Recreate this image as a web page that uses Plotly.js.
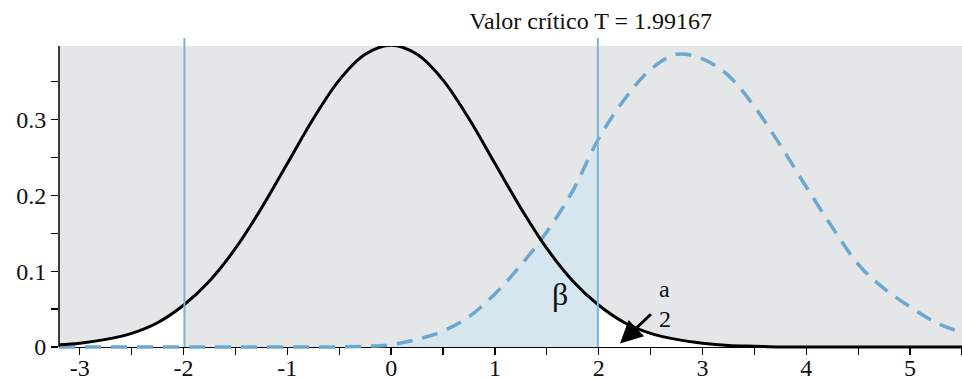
<!DOCTYPE html>
<html>
<head>
<meta charset="utf-8">
<script src="https://cdn.plot.ly/plotly-3.0.1.min.js"></script>
<style>
  html, body { margin: 0; padding: 0; background: #fff; }
  #chart { width: 962px; height: 379px; }
</style>
</head>
<body>
<div id="chart"></div>
<script>
// critical value of the test
const critT = 1.99167;

const xVals = [-3.2, -3.0, -2.75, -2.5, -2.25, -1.99167, -1.75, -1.5, -1.25, -1.0, -0.75, -0.5, -0.25, 0,
  0.25, 0.5, 0.75, 1.0, 1.25, 1.5, 1.75, 1.99167, 2.25, 2.5, 2.75, 3.0, 3.25, 3.5, 3.75, 4.0,
  4.25, 4.5, 4.75, 5.0, 5.25, 5.5];

// null distribution (solid black)
const nullDens = [0.003, 0.005, 0.010, 0.018, 0.032, 0.056, 0.087, 0.130, 0.183, 0.242, 0.301, 0.352, 0.386, 0.398,
  0.386, 0.352, 0.301, 0.242, 0.183, 0.130, 0.087, 0.056, 0.032, 0.018, 0.010, 0.005, 0.002, 0.001, 0, 0,
  0, 0, 0, 0, 0, 0];

// alternative distribution (dashed blue)
const altDens = [0, 0, 0, 0, 0, 0, 0, 0, 0, 0, 0, 0, 0.001, 0.003,
  0.010, 0.021, 0.040, 0.070, 0.108, 0.152, 0.206, 0.273, 0.327, 0.366, 0.386, 0.380, 0.358, 0.317, 0.266, 0.211,
  0.158, 0.109, 0.077, 0.053, 0.032, 0.019];

const xTickVals = [-3, -2, -1, 0, 1, 2, 3, 4, 5];
const xTickText = ["-3", "-2", "-1", "0", "1", "2", "3", "4", "5"];

const serif = "Liberation Serif";
const blue = "#6ba8cf";

// y range goes a hair below 0 so curves lying on the axis are not cut in half
const yLo = -0.004, yHi = 0.397;
const zeroPos = -yLo / (yHi - yLo);

// pick the part of a series inside [lo, hi]
function slice(ys, lo, hi){
  const x = [], y = [];
  xVals.forEach((v, i) => {
    if(v >= lo - 1e-9 && v <= hi + 1e-9){
      x.push(v);
      y.push(ys[i]);
    }
  });
  return {x: x, y: y};
}

const leftTail = slice(nullDens, -10, -critT);
const rightTail = slice(nullDens, critT, 10);
const betaPart = slice(altDens, -10, critT);

const traces = [
  {x: leftTail.x, y: leftTail.y, type: "scatter", mode: "lines", line: {width: 0, shape: "spline"},
   fill: "tozeroy", fillcolor: "#ffffff", hoverinfo: "skip"},
  {x: rightTail.x, y: rightTail.y, type: "scatter", mode: "lines", line: {width: 0, shape: "spline"},
   fill: "tozeroy", fillcolor: "#ffffff", hoverinfo: "skip"},
  {x: betaPart.x, y: betaPart.y, type: "scatter", mode: "lines", line: {width: 0, shape: "spline"},
   fill: "tozeroy", fillcolor: "#d6e6ef", hoverinfo: "skip"},
  {x: xVals, y: altDens, type: "scatter", mode: "lines",
   line: {color: blue, width: 3.5, dash: "16px,10px", shape: "spline"}},
  {x: xVals, y: nullDens, type: "scatter", mode: "lines",
   line: {color: "#000000", width: 3, shape: "spline"}}
];

const tickFont = {family: serif, size: 24, color: "#111"};

const shapes = [
  // grey panel from 0 up
  {type: "rect", xref: "paper", yref: "y", x0: 0, x1: 1, y0: 0, y1: yHi,
   fillcolor: "#e5e6e8", line: {width: 0}, layer: "below"},
  // y axis line
  {type: "line", xref: "paper", yref: "y", x0: 0, x1: 0, y0: 0, y1: yHi,
   line: {color: "#000", width: 1.5}, layer: "above"}
];
[-critT, critT].forEach(v => {
  shapes.push({
    type: "line", xref: "x", yref: "paper",
    x0: v, x1: v, y0: zeroPos, y1: 1.026,
    line: {color: "#7ab3d6", width: 2}
  });
});

const layout = {
  width: 962,
  height: 379,
  margin: {l: 59, r: 0, t: 46, b: 29},
  paper_bgcolor: "#ffffff",
  plot_bgcolor: "#ffffff",
  showlegend: false,
  font: tickFont,
  title: {
    text: "Valor crítico T = " + critT,
    x: 0.614, xanchor: "center", xref: "container",
    y: 0.945, yanchor: "middle", yref: "container",
    font: tickFont
  },
  xaxis: {
    range: [-3.2, 5.5],
    anchor: "free", position: zeroPos,
    showgrid: false, zeroline: false,
    showline: true, linecolor: "#000", linewidth: 1.5,
    ticks: "outside", ticklen: 7, tickwidth: 1.3, tickcolor: "#000",
    tickvals: xTickVals, ticktext: xTickText,
    minor: {dtick: 0.5, tick0: 0, ticks: "outside", ticklen: 7, tickwidth: 1.3, tickcolor: "#000", showgrid: false},
    layer: "below traces",
    ticklabelstandoff: -8,
    tickfont: tickFont
  },
  yaxis: {
    range: [yLo, yHi],
    showgrid: false, zeroline: false,
    showline: false,
    ticks: "outside", ticklen: 7, tickwidth: 1.3, tickcolor: "#000",
    dtick: 0.1, tick0: 0,
    minor: {dtick: 0.05, tick0: 0, ticks: "outside", ticklen: 7, tickwidth: 1.3, tickcolor: "#000", showgrid: false},
    layer: "below traces",
    tickfont: tickFont
  },
  shapes: shapes,
  annotations: [
    {x: 1.63, y: 0.0705, xref: "x", yref: "y", text: "β", showarrow: false,
     font: {family: serif, size: 32, color: "#111"}},
    {x: 2.636, y: 0.077, xref: "x", yref: "y", text: "a", showarrow: false, font: tickFont},
    {x: 2.636, y: 0.0375, xref: "x", yref: "y", text: "2", showarrow: false, font: tickFont},
    {x: 2.205, y: 0.0045, xref: "x", yref: "y", ax: 2.517, ay: 0.045, axref: "x", ayref: "y",
     text: "", showarrow: true, arrowhead: 2, arrowsize: 1.5, arrowwidth: 3, arrowcolor: "#000", standoff: 0}
  ]
};

Plotly.newPlot("chart", traces, layout, {staticPlot: true, displayModeBar: false});
</script>
</body>
</html>
